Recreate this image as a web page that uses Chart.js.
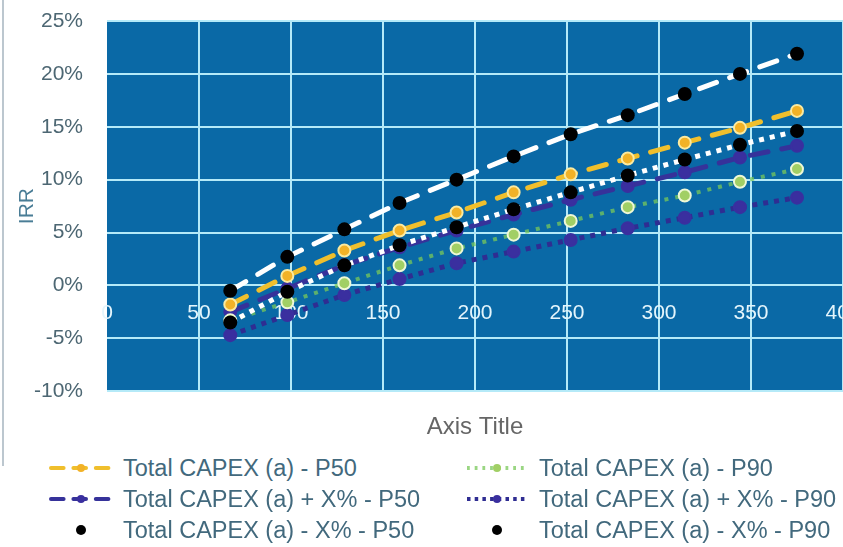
<!DOCTYPE html>
<html>
<head>
<meta charset="utf-8">
<script src="https://cdn.jsdelivr.net/npm/chart.js@4.4.1/dist/chart.umd.min.js"></script>
<style>
  body { margin: 0; background: #fff; font-family: 'Liberation Sans', Arial, sans-serif; }
  #wrap { position: relative; width: 843px; height: 547px; overflow: hidden; }
  #edge { position: absolute; left: 2px; top: 0; width: 2px; height: 466px; background: #bcc7cf; }
  #irrChart { position: absolute; left: 0; top: 0; }
  #legend { position: absolute; left: 0; top: 454px; width: 843px; display: grid;
            grid-template-columns: 416px 378px; padding-left: 49px; row-gap: 3px; }
  .item { display: flex; align-items: center; height: 28px; font-size: 23.5px; color: #42697d; white-space: nowrap; }
  .item canvas { margin-right: 10px; }
</style>
</head>
<body>
<div id="wrap">
  <div id="edge"></div>
  <canvas id="irrChart" width="843" height="450"></canvas>
  <div id="legend"></div>
</div>
<script>
var capex = [67, 98, 129, 159, 190, 221, 252, 283, 314, 344, 375];

var irrP50      = [-1.8, 0.9, 3.3, 5.2, 6.9, 8.8, 10.5, 12.0, 13.5, 14.9, 16.5];
var irrP90      = [-3.3, -1.6, 0.2, 1.9, 3.5, 4.8, 6.1, 7.4, 8.5, 9.8, 11.0];
var irrPlusP50  = [-2.5, -0.3, 1.9, 3.6, 5.2, 6.7, 8.1, 9.4, 10.7, 12.1, 13.2];
var irrPlusP90  = [-4.7, -2.8, -0.9, 0.6, 2.1, 3.2, 4.3, 5.4, 6.4, 7.4, 8.3];
var irrMinusP50 = [-0.5, 2.7, 5.3, 7.8, 10.0, 12.2, 14.3, 16.1, 18.1, 20.0, 21.9];
var irrMinusP90 = [-3.5, -0.6, 1.9, 3.8, 5.5, 7.2, 8.8, 10.4, 11.9, 13.3, 14.6];

var xTicksStep = 50;
var yTicksStep = 5;

var plotBg = '#0a69a6';
var gridColor = '#b5eaf8';
var tickColor = '#4d6773';
var fontFamily = "'Liberation Sans', Arial, sans-serif";

var longDash = [18, 14];
var squareDot = [5, 6];

function points(ys) {
	return capex.map(function(x, i) { return { x: x, y: ys[i] }; });
}

function series(label, ys, style) {
	return Object.assign({
		label: label,
		data: points(ys),
		borderWidth: 5,
		borderCapStyle: 'butt',
		pointRadius: 6,
		pointHoverRadius: 6,
		pointBorderWidth: 2,
		tension: 0,
		fill: false
	}, style);
}

var datasets = [
	series('Total CAPEX (a) - P50', irrP50, {
		borderColor: '#f0bf2c', borderDash: longDash, borderCapStyle: 'round',
		pointBackgroundColor: '#f2b227', pointBorderColor: '#fbeaa0', order: 2
	}),
	series('Total CAPEX (a) - P90', irrP90, {
		borderColor: 'rgba(120,200,90,0.75)', borderWidth: 4, borderDash: [4, 7],
		pointBackgroundColor: '#a1cf65', pointBorderColor: '#eef8d6', order: 3
	}),
	series('Total CAPEX (a) + X% - P50', irrPlusP50, {
		borderColor: '#36329a', borderDash: longDash, borderCapStyle: 'round',
		pointBackgroundColor: '#3a2f9f', pointBorderColor: '#3a2f9f', order: 4
	}),
	series('Total CAPEX (a) + X% - P90', irrPlusP90, {
		borderColor: '#2f2d92', borderDash: squareDot,
		pointBackgroundColor: '#3a2f9f', pointBorderColor: '#3a2f9f', order: 5
	}),
	series('Total CAPEX (a) - X% - P50', irrMinusP50, {
		borderColor: '#ffffff', borderDash: longDash, borderCapStyle: 'round',
		pointRadius: 7, pointHoverRadius: 7, pointBorderWidth: 0,
		pointBackgroundColor: '#000000', pointBorderColor: '#000000', order: 0
	}),
	series('Total CAPEX (a) - X% - P90', irrMinusP90, {
		borderColor: '#ffffff', borderDash: squareDot,
		pointRadius: 7, pointHoverRadius: 7, pointBorderWidth: 0,
		pointBackgroundColor: '#000000', pointBorderColor: '#000000', order: 1
	})
];

// paint the plot area before the grid goes on
var plotBackground = {
	id: 'plotBackground',
	beforeDraw: function(chart) {
		var a = chart.chartArea, ctx = chart.ctx;
		ctx.save();
		ctx.fillStyle = plotBg;
		ctx.fillRect(a.left, a.top, a.right - a.left, a.bottom - a.top);
		ctx.restore();
	}
};

var irrChart = new Chart(document.getElementById('irrChart'), {
	type: 'line',
	data: { datasets: datasets },
	plugins: [plotBackground],
	options: {
		responsive: false,
		animation: false,
		layout: { autoPadding: false, padding: { top: 21, right: 0, bottom: 0, left: 0 } },
		plugins: { legend: { display: false }, tooltip: { enabled: false } },
		font: { family: fontFamily },
		scales: {
			x: {
				type: 'linear',
				min: 0, max: 400,
				position: { y: 0 },
				grid: {
					color: function(c) { return c.tick && c.tick.value === 0 ? 'rgba(0,0,0,0)' : gridColor; },
					lineWidth: 2, drawTicks: false
				},
				border: { display: false },
				ticks: { stepSize: xTicksStep, color: '#e4f5fc', font: { size: 21, family: fontFamily }, padding: 15, maxRotation: 0, autoSkip: false },
				afterFit: function(s) { s.paddingLeft = 0; s.paddingRight = 0; }
			},
			xTitle: {
				type: 'linear',
				axis: 'x',
				position: 'bottom',
				min: 0, max: 400,
				display: true,
				grid: { display: false, drawTicks: false },
				border: { display: false },
				ticks: { display: false },
				title: { display: true, text: 'Axis Title', color: '#666666', font: { size: 24, family: fontFamily }, padding: { top: 22, bottom: 8 } }
			},
			y: {
				min: -10, max: 25,
				position: 'left',
				grid: { color: gridColor, lineWidth: 2, drawTicks: false },
				border: { display: false },
				ticks: {
					stepSize: yTicksStep, color: tickColor, padding: 24,
					font: { size: 21, family: fontFamily },
					callback: function(v) { return v + '%'; }
				},
				title: { display: true, text: 'IRR', color: '#4a7d96', font: { size: 21, family: fontFamily }, padding: { top: 15, bottom: 0 } },
				afterFit: function(s) { s.width = 107; s.paddingTop = 0; s.paddingBottom = 0; }
			}
		}
	}
});

// two-column legend, samples drawn from each dataset's own style
function drawSample(cv, ds) {
	var ctx = cv.getContext('2d'), w = cv.width, h = cv.height;
	ctx.save();
	ctx.strokeStyle = ds.borderColor;
	ctx.lineWidth = 4;
	ctx.lineCap = ds.borderCapStyle;
	ctx.setLineDash(ds.borderDash.map(function(d) { return d * 0.7; }));
	ctx.beginPath();
	ctx.moveTo(2, h / 2);
	ctx.lineTo(w - 2, h / 2);
	ctx.stroke();
	ctx.setLineDash([]);
	ctx.beginPath();
	ctx.arc(w / 2, h / 2, ds.pointRadius - 2, 0, Math.PI * 2);
	ctx.fillStyle = ds.pointBackgroundColor;
	ctx.fill();
	ctx.restore();
}

var legendBox = document.getElementById('legend');
var legendOrder = [0, 1, 2, 3, 4, 5];
legendOrder.forEach(function(i) {
	var ds = irrChart.data.datasets[i];
	var item = document.createElement('div');
	item.className = 'item';
	var cv = document.createElement('canvas');
	cv.width = 64; cv.height = 22;
	drawSample(cv, ds);
	item.appendChild(cv);
	item.appendChild(document.createTextNode(ds.label));
	legendBox.appendChild(item);
});
</script>
</body>
</html>
